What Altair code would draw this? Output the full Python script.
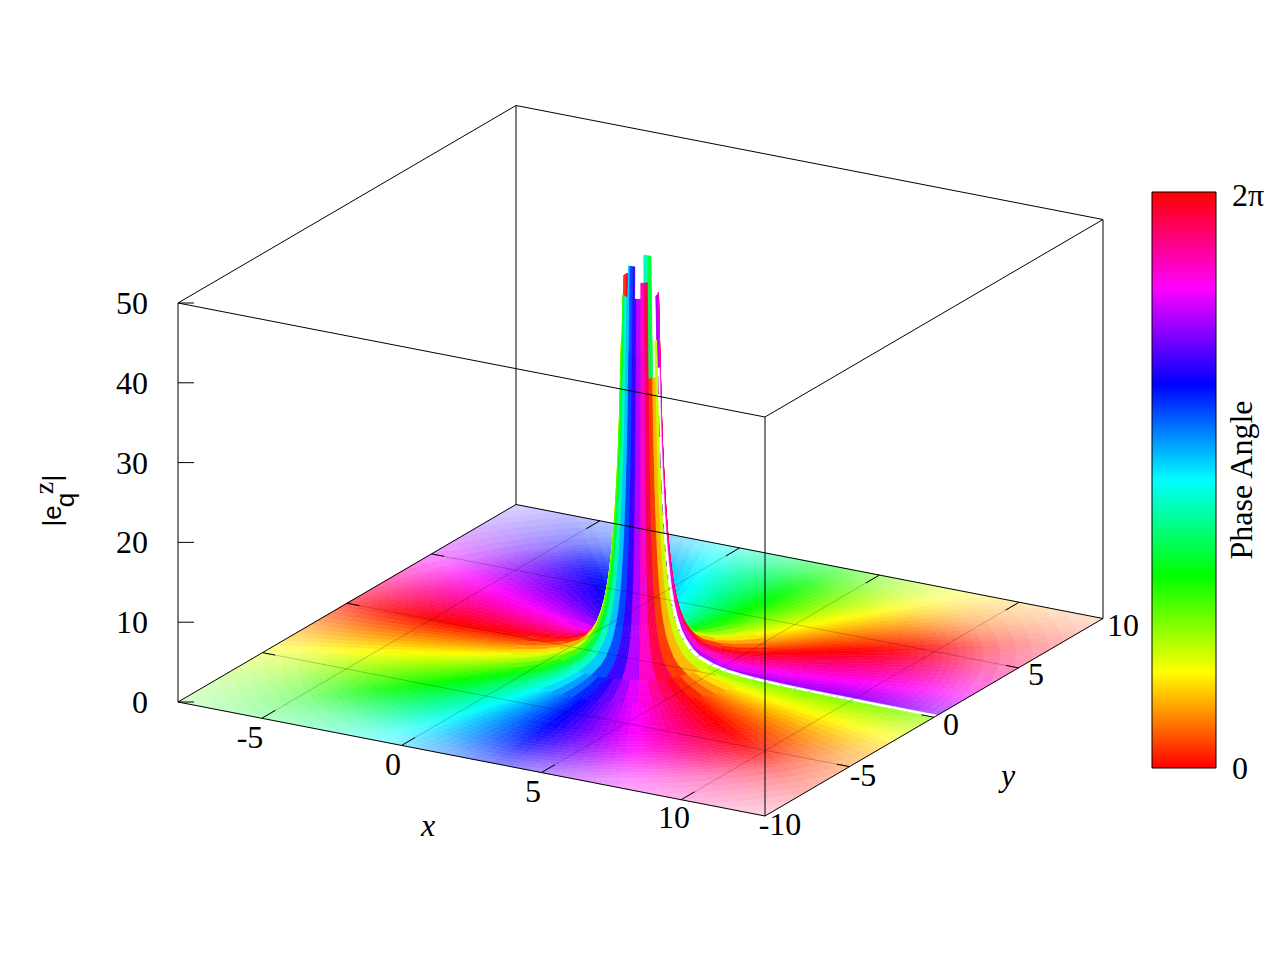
import colorsys
import numpy as np
import pandas as pd
import altair as alt

# --- values ---
x_ticks = [-5, 0, 5, 10]
y_ticks = [-10, -5, 0, 5, 10]
z_ticks = [0, 10, 20, 30, 40, 50]
x_range = [-8, 13]
y_range = [-10, 10]
z_range = [0, 50]
pole_x = 2.5
# hue of the surface for 2-degree wedges around the pole, counter-clockwise from +x
wedge_hue = [273,278,283,288,293,298,303,308,313,318,323,328,333,338,343,348,353,358,
             3,8,13,18,23,28,33,38,43,48,53,58,63,68,73,78,83,88,93,98,103,108,113,118,123,128,133,138,143,148,
             153,158,163,168,173,178,183,188,193,198,203,208,213,218,223,228,233,238,243,248,253,258,263,268,
             273,278,283,288,293,298,303,308,313,318,323,328,333,338,343,348,353,358,
             3,8,13,18,23,28,33,38,43,48,53,58,63,68,73,78,83,88,93,98,103,108,113,118,123,128,133,138,143,148,
             153,158,163,168,173,178,183,188,193,198,203,208,213,218,223,228,233,238,243,248,253,258,263,268,
             273,278,283,288,293,298,303,308,313,318,323,328,333,338,343,348,353,358,
             3,8,13,18,23,28,33,38,43,48,53,58,63,68,73,78,83,88]
# height at which the jagged top of the peak stops, for wedges up to each angle
cap_end_deg = [36, 84, 111, 168, 192, 222, 258, 282, 303, 324, 351, 360]
cap_z = [46, 30, 50, 38, 48, 41, 46, 50, 46, 48, 36, 42]
white_cut_top = 42
# radius from the pole and height of the surface
ring_r = [.53,.54,.55,.56,.58,.6,.61,.64,.68,.72,.76,.8,.85,.9,.95,1,1.1,1.2,1.35,1.5,1.75,2,2.5,3,3.5,4,4.5,5,5.5,6,6.5,
          6.75,7,7.25,7.5,7.75,8,8.25,8.5,8.75,9,9.25,9.5,9.75,10,10.25,10.5,11,11.5,12,12.5,13,13.5,14,14.5,15]
ring_z = [50,48,46,44,40.5,37.5,36,31,26.5,23,20,17.6,15,13,11.3,9.8,7.7,6.2,4.6,3.6,2.4,1.7,1,.6,.4,.28,.2,.15,.12,.09,.07,
          .06,.06,.05,.05,.04,.04,.03,.03,.03,.03,.02,.02,.02,.02,.01,.01,.01,.01,0,0,0,0,0,0,0]
# paleness of the surface against a distance that counts x a little less than y
pale_r = [0, 5.5, 6, 6.5, 7, 7.5, 8, 8.5, 9, 9.5, 10, 10.5, 11, 11.5, 12, 12.5, 13, 13.5, 14, 15]
pale_v = [0, 0, .01, .03, .07, .12, .18, .26, .35, .44, .52, .58, .63, .67, .71, .75, .79, .82, .85, .88]
gap_half = 0.2
cb_hue = [0, 60, 120, 180, 240, 300, 360]
cb_label = ["0", "2π"]

# --- the projection of the box onto the page ---
OX, OY = 178.0, 702.0
EX = (587 / 21, 114 / 21)
EY = (338 / 20, -197.5 / 20)
EZ = 399 / 50


def page(x, y, z=0.0):
    a, b = x - x_range[0], y - y_range[0]
    return OX + a * EX[0] + b * EY[0], OY + a * EX[1] + b * EY[1] - z * EZ


def colour(h, pale=0.0):
    r, g, b = colorsys.hsv_to_rgb((h % 360) / 360, 1, 1)
    r, g, b = [c + (1 - c) * pale for c in (r, g, b)]
    return "#%02x%02x%02x" % (round(r * 255), round(g * 255), round(b * 255))


def clip(poly):
    for axis, lim, keep_low in ((0, x_range[0], False), (0, x_range[1], True),
                                (1, y_range[0], False), (1, y_range[1], True)):
        out = []
        for i in range(len(poly)):
            p, q = poly[i], poly[(i + 1) % len(poly)]
            pin = p[axis] <= lim if keep_low else p[axis] >= lim
            qin = q[axis] <= lim if keep_low else q[axis] >= lim
            if pin:
                out.append(p)
            if pin != qin:
                t = (lim - p[axis]) / (q[axis] - p[axis])
                out.append((p[0] + t * (q[0] - p[0]), p[1] + t * (q[1] - p[1])))
        poly = out
        if not poly:
            return []
    return poly


def feature(poly, col, bias=0.0):
    pts = []
    for (x, y) in poly:
        r = np.hypot(x - pole_x, y)
        pts.append(page(x, y, float(np.interp(r, ring_r, ring_z))))
    pts.append(pts[0])
    cx = sum(p[0] for p in poly) / len(poly)
    cy = sum(p[1] for p in poly) / len(poly)
    key = EX[1] * cx + EY[1] * cy + bias
    return key, {"type": "Feature", "properties": {"c": col},
                 "geometry": {"type": "Polygon",
                              "coordinates": [[[round(a, 2), round(b, 2)] for a, b in pts]]}}


def cap_for(theta):
    for end, c in zip(cap_end_deg, cap_z):
        if theta < end:
            return c
    return cap_z[-1]


cells = []
dth = 360 / len(wedge_hue)
for i, h in enumerate(wedge_hue):
    t0, t1 = np.radians(i * dth), np.radians((i + 1) * dth)
    cap = cap_for((i + 0.5) * dth)
    for j in range(len(ring_r) - 1):
        r0, r1 = ring_r[j], ring_r[j + 1]
        if ring_z[j] > cap:
            continue
        poly = clip([(pole_x + r0 * np.cos(t0), r0 * np.sin(t0)),
                     (pole_x + r1 * np.cos(t0), r1 * np.sin(t0)),
                     (pole_x + r1 * np.cos(t1), r1 * np.sin(t1)),
                     (pole_x + r0 * np.cos(t1), r0 * np.sin(t1))])
        if not poly:
            continue
        # near the pole the colours come in wider steps
        if r1 <= 2.5:
            hh = wedge_hue[i - i % 6 + 2]
        elif r1 <= 4:
            hh = wedge_hue[i - i % 3 + 1]
        else:
            hh = h
        mx = sum(p[0] for p in poly) / len(poly) - pole_x
        my = sum(p[1] for p in poly) / len(poly)
        pale = float(np.interp(np.hypot(0.88 * mx, my), pale_r, pale_v))
        cells.append(feature(poly, colour(hh, pale)))
# the white cut along y = 0 on the +x side
for j in range(len(ring_r) - 1):
    r0, r1 = ring_r[j], ring_r[j + 1]
    a, b = pole_x + r0, pole_x + r1
    if a >= x_range[1] or ring_z[j] > white_cut_top:
        continue
    b = min(b, x_range[1])
    g = min(gap_half, 0.10 + 0.12 * r0)
    k, f = feature([(a, -g), (b, -g), (b, g), (a, g)], "#ffffff", bias=0.01)
    cells.append((k, f))
cells.sort(key=lambda c: c[0])
surface_fc = [c[1] for c in cells]

surface = alt.Chart(alt.InlineData(values=surface_fc)).mark_geoshape(strokeWidth=0.6).encode(
    fill=alt.Fill("properties.c:N", scale=None),
    stroke=alt.Stroke("properties.c:N", scale=None),
).project(type="identity", scale=1, translate=[-8, -8])

X = alt.X("x:Q", scale=alt.Scale(domain=[8, 1272]), axis=None)
Y = alt.Y("y:Q", scale=alt.Scale(domain=[952, 8]), axis=None)


def seg(p, q):
    return {"x": p[0], "y": p[1], "x2": q[0], "y2": q[1]}


def rules(rows, **kw):
    return alt.Chart(pd.DataFrame(rows)).mark_rule(**kw).encode(x=X, y=Y, x2="x2:Q", y2="y2:Q")


xa, xb = x_range
ya, yb = y_range
zt = z_range[1]
box = [seg(page(xa, ya), page(xb, ya)), seg(page(xb, ya), page(xb, yb)),
       seg(page(xb, yb), page(xa, yb)), seg(page(xa, yb), page(xa, ya)),
       seg(page(xa, ya, zt), page(xb, ya, zt)), seg(page(xb, ya, zt), page(xb, yb, zt)),
       seg(page(xb, yb, zt), page(xa, yb, zt)), seg(page(xa, yb, zt), page(xa, ya, zt)),
       seg(page(xa, ya), page(xa, ya, zt)), seg(page(xb, ya), page(xb, ya, zt)),
       seg(page(xb, yb), page(xb, yb, zt)), seg(page(xa, yb), page(xa, yb, zt))]

grid = []
ticks = []
TX, TY = 0.45, 0.8
for v in x_ticks:
    grid.append(seg(page(v, ya), page(v, yb)))
    ticks.append(seg(page(v, ya), page(v, ya + TY)))
    ticks.append(seg(page(v, yb), page(v, yb - TY)))
for v in y_ticks[1:-1]:
    end = 5.2 if v == 0 else xb
    grid.append(seg(page(xa, v), page(end, v)))
    ticks.append(seg(page(xa, v), page(xa + TX, v)))
    ticks.append(seg(page(xb, v), page(xb - TX, v)))
for v in z_ticks:
    p = page(xa, ya, v)
    ticks.append(seg(p, (p[0] + 16, p[1])))

grid_layer = rules(grid, color="#000000", strokeWidth=0.6, opacity=0.35)
tick_layer = rules(ticks, color="#000000", strokeWidth=1)
box_layer = rules(box, color="#000000", strokeWidth=1)

bar = alt.Chart(pd.DataFrame([{"x": 1152, "y": 192, "x2": 1216, "y2": 768}])).mark_rect(
    fill=alt.Gradient(gradient="linear", x1=0, x2=0, y1=1, y2=0,
                      stops=[alt.GradientStop(color=colour(h), offset=h / 360) for h in cb_hue]),
    stroke="#000000", strokeWidth=1,
).encode(x=X, y=Y, x2="x2:Q", y2="y2:Q")


def texts(rows, **kw):
    base = dict(font="Liberation Serif", fontSize=32, color="#000000", baseline="middle", align="center")
    base.update(kw)
    return alt.Chart(pd.DataFrame(rows)).mark_text(**base).encode(x=X, y=Y, text="t:N")


z_text = texts([{"x": 148, "y": page(xa, ya, v)[1] + 1, "t": str(v)} for v in z_ticks], align="right")
x_pos = {-5: (250, 738), 0: (393, 765), 5: (533, 792), 10: (674, 818)}
x_text = texts([{"x": x_pos[v][0], "y": x_pos[v][1], "t": str(v)} for v in x_ticks])
y_pos = {-10: (780, 825), -5: (863, 776), 0: (951, 725), 5: (1036, 675), 10: (1123, 626)}
y_text = texts([{"x": y_pos[v][0], "y": y_pos[v][1], "t": str(v)} for v in y_ticks])
cb_text = texts([{"x": 1232, "y": 769, "t": cb_label[0]}, {"x": 1232, "y": 196, "t": cb_label[1]}], align="left")
names = texts([{"x": 428, "y": 826, "t": "x"}, {"x": 1008, "y": 776, "t": "y"}], fontStyle="italic")
phase = texts([{"x": 1242, "y": 480, "t": "Phase Angle"}], angle=270)
lab1 = texts([{"x": 53, "y": 516, "t": "|e"}], angle=270, font="Liberation Sans", fontSize=26)
lab2 = texts([{"x": 66, "y": 500, "t": "q"}], angle=270, font="Liberation Sans", fontSize=26)
lab3 = texts([{"x": 45, "y": 488, "t": "z"}], angle=270, fontSize=28)
lab4 = texts([{"x": 53, "y": 478, "t": "|"}], angle=270, font="Liberation Sans", fontSize=26)

chart = alt.layer(surface, grid_layer, tick_layer, box_layer, bar, z_text, x_text, y_text,
                  cb_text, names, phase, lab1, lab2, lab3, lab4).properties(
    width=1264, height=944, padding=0, autosize=alt.AutoSizeParams(type="none"),
).configure_view(stroke=None)

chart.save("out.html", embed_options={"renderer": "svg", "actions": False})
